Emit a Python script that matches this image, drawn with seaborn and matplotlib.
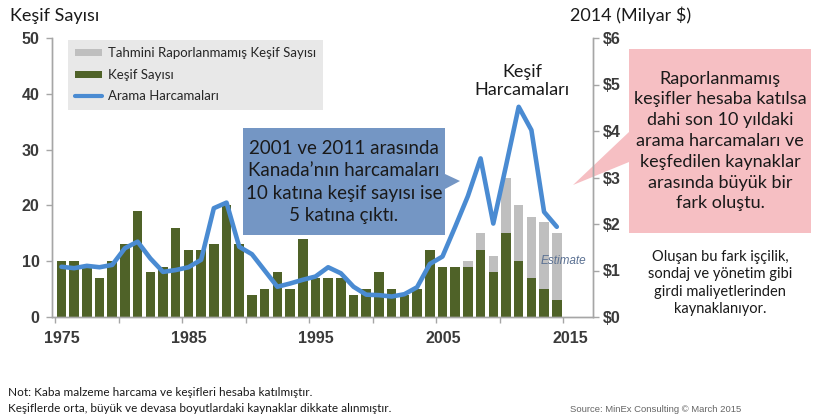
import numpy as np
import seaborn as sns
import matplotlib.pyplot as plt
import matplotlib.transforms as mtransforms
from matplotlib.patches import Polygon, Patch
from matplotlib.lines import Line2D

# Veriler
years = list(range(1975, 2015))
kesif = [10, 10, 9, 7, 10, 13, 19, 8, 9, 16, 12, 12, 13, 20, 13, 4, 5, 8, 5, 14,
         7, 7, 7, 4, 5, 8, 5, 4, 5, 12, 9, 9, 9, 12, 8, 15, 10, 7, 5, 3]
raporlanmamis = [0, 0, 0, 0, 0, 0, 0, 0, 0, 0, 0, 0, 0, 0, 0, 0, 0, 0, 0, 0,
                 0, 0, 0, 0, 0, 0, 0, 0, 0, 0, 0, 0, 1, 3, 3, 10, 10, 11, 12, 12]
harcama = [1.08, 1.05, 1.10, 1.07, 1.12, 1.48, 1.62, 1.26, 0.97, 1.01,
           1.07, 1.23, 2.34, 2.46, 1.51, 1.35, 1.00, 0.65, 0.72, 0.80,
           0.87, 1.07, 0.94, 0.65, 0.48, 0.47, 0.44, 0.49, 0.64, 1.14,
           1.30, 1.94, 2.60, 3.41, 2.01, 3.25, 4.52, 4.02, 2.26, 1.94]
sol_ticks = [0, 10, 20, 30, 40, 50]
sag_ticks = [0, 1, 2, 3, 4, 5, 6]
yil_ticks = [1975, 1985, 1995, 2005, 2015]

W, H = 817, 418
GREEN = "#4f6228"
GRAY = "#bfbfbf"
BLUE = "#4a8bd2"
TXT = "#1a1a1a"

sns.set_style("white")
plt.rcParams["font.family"] = ["Lato", "DejaVu Sans"]

def fx(x):
    return x / W

def fy(y):
    return 1 - y / H

fig = plt.figure(figsize=(W / 100, H / 100), dpi=100)
ax = fig.add_axes([fx(52), fy(317), (593 - 52) / W, (317 - 38) / H])
ax.patch.set_visible(False)
ax2 = ax.twinx()

xpos = np.array(years) + 0.5
toplam = np.array(kesif) + np.array(raporlanmamis)

# Barlar: once toplam (gri), ustune raporlanan kesifler (yesil)
sns.barplot(x=xpos, y=toplam, native_scale=True, color=GRAY, saturation=1,
            width=0.75, errorbar=None, ax=ax, linewidth=0)
sns.barplot(x=xpos, y=kesif, native_scale=True, color=GREEN, saturation=1,
            width=0.75, errorbar=None, ax=ax, linewidth=0)
sns.lineplot(x=xpos, y=harcama, color=BLUE, linewidth=3.3, ax=ax2)

for a in (ax, ax2):
    a.set_xlim(1974.76, 2017.35)
    a.set_xlabel("")
    a.set_ylabel("")
    a.spines["top"].set_visible(False)
    for s in ("left", "right", "bottom"):
        a.spines[s].set_color("#a6a6a6")
        a.spines[s].set_linewidth(1.0)

ax.set_ylim(0, 50)
ax2.set_ylim(0, 6)
ax.set_yticks(sol_ticks)
ax2.set_yticks(sag_ticks)
ax2.set_yticklabels(["$%d" % v for v in sag_ticks])
ax.set_xticks(yil_ticks)
ax.set_xticklabels([str(y) for y in yil_ticks])
ax.set_xticks(list(range(1980, 2015, 10)), minor=True)

tick_font = dict(family=["Liberation Sans"], weight="bold", size=11.5)
for lab in ax.get_yticklabels() + ax2.get_yticklabels() + ax.get_xticklabels():
    lab.set_fontproperties(tick_font)
    lab.set_color("#3a3a3a")
ax.tick_params(axis="y", direction="out", length=4, width=1, color="#a6a6a6", pad=5, left=True)
ax2.tick_params(axis="y", direction="out", length=4, width=1, color="#a6a6a6", pad=3, right=True)
ax.tick_params(axis="x", which="both", direction="out", length=4, width=1,
               color="#a6a6a6", pad=6, bottom=True)
off = mtransforms.ScaledTranslation(7 / 100, 0, fig.dpi_scale_trans)
for lab in ax.get_xticklabels():
    lab.set_transform(lab.get_transform() + off)

ax.text(2016.8, 10.0, "Estimate", ha="right", va="center", style="italic",
        color="#5b7193", fontsize=8.5, family=["Liberation Sans"])

# Lejant
handles = [Patch(facecolor=GRAY, edgecolor="none"),
           Patch(facecolor=GREEN, edgecolor="none"),
           Line2D([], [], color=BLUE, linewidth=3)]
labels = ["Tahmini Raporlanmamış Keşif Sayısı", "Keşif Sayısı", "Arama Harcamaları"]
leg = fig.legend(handles, labels, loc="upper left", bbox_to_anchor=(fx(68), fy(40)),
                 bbox_transform=fig.transFigure, frameon=True, fancybox=False,
                 fontsize=9.5, handlelength=2.0, handleheight=0.45, labelspacing=0.72,
                 borderpad=0.55, handletextpad=0.45, borderaxespad=0)
leg.get_frame().set_facecolor("#e8e8e8")
leg.get_frame().set_edgecolor("none")
leg.get_frame().set_alpha(1)

# Basliklar
fig.text(fx(10), fy(16), "Keşif Sayısı", ha="left", va="center", fontsize=13, color=TXT)
fig.text(fx(570), fy(15), "2014 (Milyar $)", ha="left", va="center", fontsize=13, color=TXT)

# Mavi kutu
blue_box = [(243, 128), (445, 128), (445, 174), (460, 181), (445, 189),
            (445, 235), (243, 235)]
fig.add_artist(Polygon([(fx(x), fy(y)) for x, y in blue_box], closed=True,
                       transform=fig.transFigure, facecolor="#7496c4",
                       edgecolor="none", zorder=5))
fig.text(fx(344), fy(182), "2001 ve 2011 arasında\nKanada’nın harcamaları\n"
         "10 katına keşif sayısı ise\n5 katına çıktı.", ha="center", va="center",
         fontsize=13.5, linespacing=1.38, color=TXT, zorder=6)

# Pembe kutu
pink_box = [(629, 49), (811, 49), (811, 233), (629, 233), (629, 162),
            (573, 185), (629, 132)]
fig.add_artist(Polygon([(fx(x), fy(y)) for x, y in pink_box], closed=True,
                       transform=fig.transFigure, facecolor="#f6bfc3",
                       edgecolor="none", zorder=-1))
fig.text(fx(720), fy(141), "Raporlanmamış\nkeşifler hesaba katılsa\ndahi son 10 yıldaki\n"
         "arama harcamaları ve\nkeşfedilen kaynaklar\narasında büyük bir\nfark oluştu.",
         ha="center", va="center", fontsize=13, linespacing=1.37, color=TXT, zorder=6)

fig.text(fx(720), fy(283), "Oluşan bu fark işçilik,\nsondaj ve yönetim gibi\n"
         "girdi maliyetlerinden\nkaynaklanıyor.", ha="center", va="center",
         fontsize=10.5, linespacing=1.3, color=TXT)

fig.text(fx(522), fy(81), "Keşif\nHarcamaları", ha="center", va="center",
         fontsize=13, linespacing=1.2, color=TXT)

# Dipnotlar
fig.text(fx(8), fy(392), "Not: Kaba malzeme harcama ve keşifleri hesaba katılmıştır.",
         ha="left", va="center", fontsize=8.5, color=TXT)
fig.text(fx(8), fy(409), "Keşiflerde orta, büyük ve devasa boyutlardaki kaynaklar dikkate alınmıştır.",
         ha="left", va="center", fontsize=8.5, color=TXT)
fig.text(fx(570), fy(410), "Source: MinEx Consulting © March 2015", ha="left", va="center",
         fontsize=6.8, color="#666666", family=["Liberation Sans Narrow", "Liberation Sans"])

fig.savefig("out.png", dpi=100)
